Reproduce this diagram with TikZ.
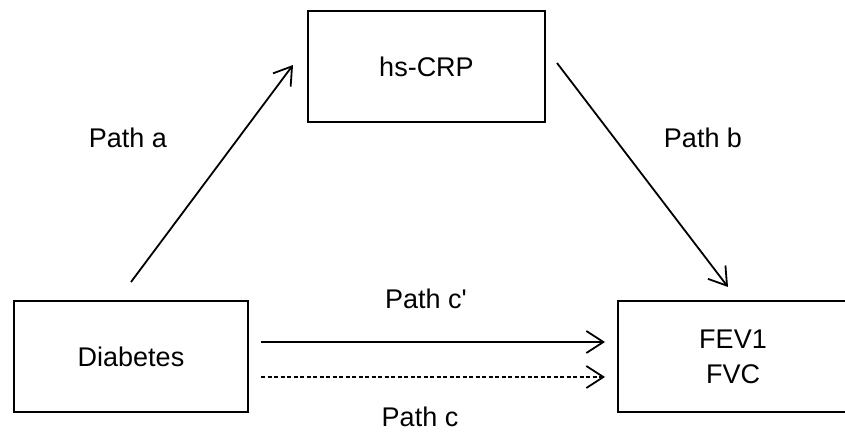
\documentclass[tikz,border=0pt]{standalone}
\usepackage{fontspec}
\setmainfont{Liberation Sans}
\usetikzlibrary{arrows.meta}
\begin{document}
\begin{tikzpicture}[x=1pt,y=-1pt,
  box/.style={draw=black, line width=2pt, rectangle, align=center, inner sep=0pt,
    font=\fontsize{27}{35}\selectfont},
  lbl/.style={inner sep=0pt, font=\fontsize{27}{35}\selectfont},
  conn/.style={line width=1.8pt, -{Straight Barb[length=17pt, width=22pt, line width=1.8pt]}},
  dashconn/.style={conn, dash pattern=on 4pt off 2.5pt}
]
\useasboundingbox (0,0) rectangle (845,436);
\begin{scope}
\clip (0,0) rectangle (845,436);
\node[box, minimum width=237pt, minimum height=111pt] (crp) at (426.5,66.5) {hs-CRP};
\node[box, minimum width=234pt, minimum height=111pt] (diab) at (131,356.5) {Diabetes};
\node[box, minimum width=230pt, minimum height=111pt] (fev) at (733,356.5) {FEV1\\FVC};
\end{scope}
\node[lbl] (pa) at (128,138) {Path a};
\node[lbl] (pb) at (703,138) {Path b};
\node[lbl] (pcp) at (426,299) {Path c\textquotesingle};
\node[lbl] (pc) at (420,417) {Path c};
\draw[conn] ([yshift=18pt]diab.north) -- ([xshift=-14pt,yshift=1.5pt]crp.west);
\draw[conn] ([xshift=11pt,yshift=3.5pt]crp.east) -- ([xshift=-5pt,yshift=13pt]fev.north);
\draw[conn] ([xshift=12pt,yshift=14.5pt]diab.east) -- ([xshift=-12pt,yshift=14.5pt]fev.west);
\draw[dashconn] ([xshift=12pt,yshift=-20.5pt]diab.east) -- ([xshift=-12pt,yshift=-20.5pt]fev.west);
\end{tikzpicture}
\end{document}
